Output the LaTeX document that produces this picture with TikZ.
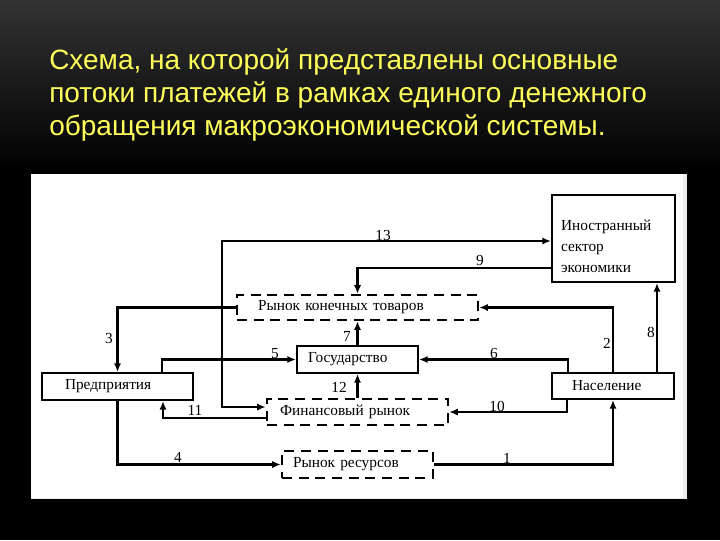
\documentclass[tikz,border=0pt]{standalone}
\usepackage{fontspec}
\setmainfont{Liberation Serif}
\newfontfamily\titlefont{Liberation Sans}
\usetikzlibrary{arrows.meta}
\usetikzlibrary{calc}

\definecolor{titleyellow}{RGB}{255,255,90}

\begin{document}
\begin{tikzpicture}[x=0.75pt,y=0.75pt,yscale=-1,xscale=1,
  box/.style={draw, line width=1.6pt, fill=white, inner ysep=0pt, align=left, font=\fontsize{11.5}{13}\selectfont},
  market/.style={draw, line width=1.9pt, dash pattern=on 7.5pt off 5pt, inner ysep=0pt, align=left, font=\fontsize{11.5}{13}\selectfont},
  flow/.style={line width=1.6pt, -{Latex[length=6.5pt,width=5.5pt]}},
  flowboth/.style={line width=1.6pt, {Latex[length=6.5pt,width=5.5pt]}-{Latex[length=6.5pt,width=5.5pt]}},
  num/.style={inner sep=0.75pt, font=\fontsize{11.5}{13}\selectfont}]
\useasboundingbox (0,0) rectangle (720,540);

%Shape: Background
\fill [black] (0,0) rectangle (720,540);
\shade [top color=black!80!white, bottom color=black] (0,0) rectangle (720,172);
%Shape: Panel
\fill [black!7] (31,174) rectangle (687,499);
\fill [white] (31,174) rectangle (683,498);

% Title Node
\node [anchor=west, align=left, inner sep=0pt, text=titleyellow, font=\titlefont\fontsize{21}{24.75}\selectfont] (title) at (49,95)
  {Схема, на которой представлены основные\\потоки платежей в рамках единого денежного\\обращения макроэкономической системы.};

%Shape: Rectangle [id:foreign]
\node [box, minimum width=92.25pt, minimum height=65.25pt, inner xsep=6.75pt, text width=78.75pt, font=\fontsize{11.5}{15.75}\selectfont] (foreign) at (613.5,238.5)
  {\rule{0pt}{20pt}Иностранный\\сектор\\экономики};
%Shape: Rectangle [id:firms]
\node [box, minimum height=20.25pt, inner xsep=17.25pt, text width=78.75pt] (firms) at (117.5,386.5) {Предприятия};
%Shape: Rectangle [id:house]
\node [box, minimum height=19.5pt, inner xsep=15pt, text width=61.5pt] (house) at (613,386) {Население};
%Shape: Rectangle [id:gov]
\node [box, minimum height=20.25pt, inner xsep=8.25pt, text width=74.25pt] (gov) at (357.5,359.5) {Государство};
%Shape: Dashed Rectangle [id:goods]
\node [market, minimum height=18.75pt, inner xsep=15.75pt, text width=149.25pt] (goods) at (357.5,307.5) {Рынок конечных товаров};
%Shape: Dashed Rectangle [id:fin]
\node [market, minimum height=19.5pt, inner xsep=9.75pt, text width=116.25pt] (fin) at (357.5,412) {Финансовый рынок};
%Shape: Dashed Rectangle [id:res]
\node [market, minimum height=20.25pt, inner xsep=8.25pt, text width=96.75pt] (res) at (357.5,464.5) {Рынок ресурсов};

% Flows
\draw [flow] (res.east) -| (house.south);
\draw [flow] (house.north) |- (goods.east);
\draw [flow] (goods.west) -| (firms.north);
\draw [flow] (firms.south) |- (res.west);
\draw [flow] ($(firms.north)+(44.5,0)$) |- (gov.west);
\draw [flow] ($(house.north)+(-45,0)$) |- (gov.east);
\draw [flow] (gov.north) -- (goods.south);
\draw [flow] ($(house.north)+(44,0)$) coordinate (h8) -- (h8 |- foreign.south);
\draw [flow] ($(foreign.west)+(0,29.5)$) -| (goods.north);
\draw [flow] ($(house.south)+(-46,0)$) |- (fin.east);
\draw [flow] ($(fin.west)+(0,6)$) -| ($(firms.south)+(45.5,0)$);
\draw [flow] (fin.north) -- (gov.south);
\draw [flowboth] ($(fin.west)+(0,-5)$) -- ++(-44,0) |- ($(foreign.west)+(0,2.5)$);

% Text Node
\node [num] (n1) at (507,458) {1};
\node [num] (n2) at (607,343) {2};
\node [num] (n3) at (109,338) {3};
\node [num] (n4) at (178,457) {4};
\node [num] (n5) at (275,354) {5};
\node [num] (n6) at (494,353) {6};
\node [num] (n7) at (347,336) {7};
\node [num] (n8) at (651,332) {8};
\node [num] (n9) at (480,260) {9};
\node [num] (n10) at (497,406) {10};
\node [num] (n11) at (195,410) {11};
\node [num] (n12) at (339,387) {12};
\node [num] (n13) at (383,235) {13};

\end{tikzpicture}
\end{document}
